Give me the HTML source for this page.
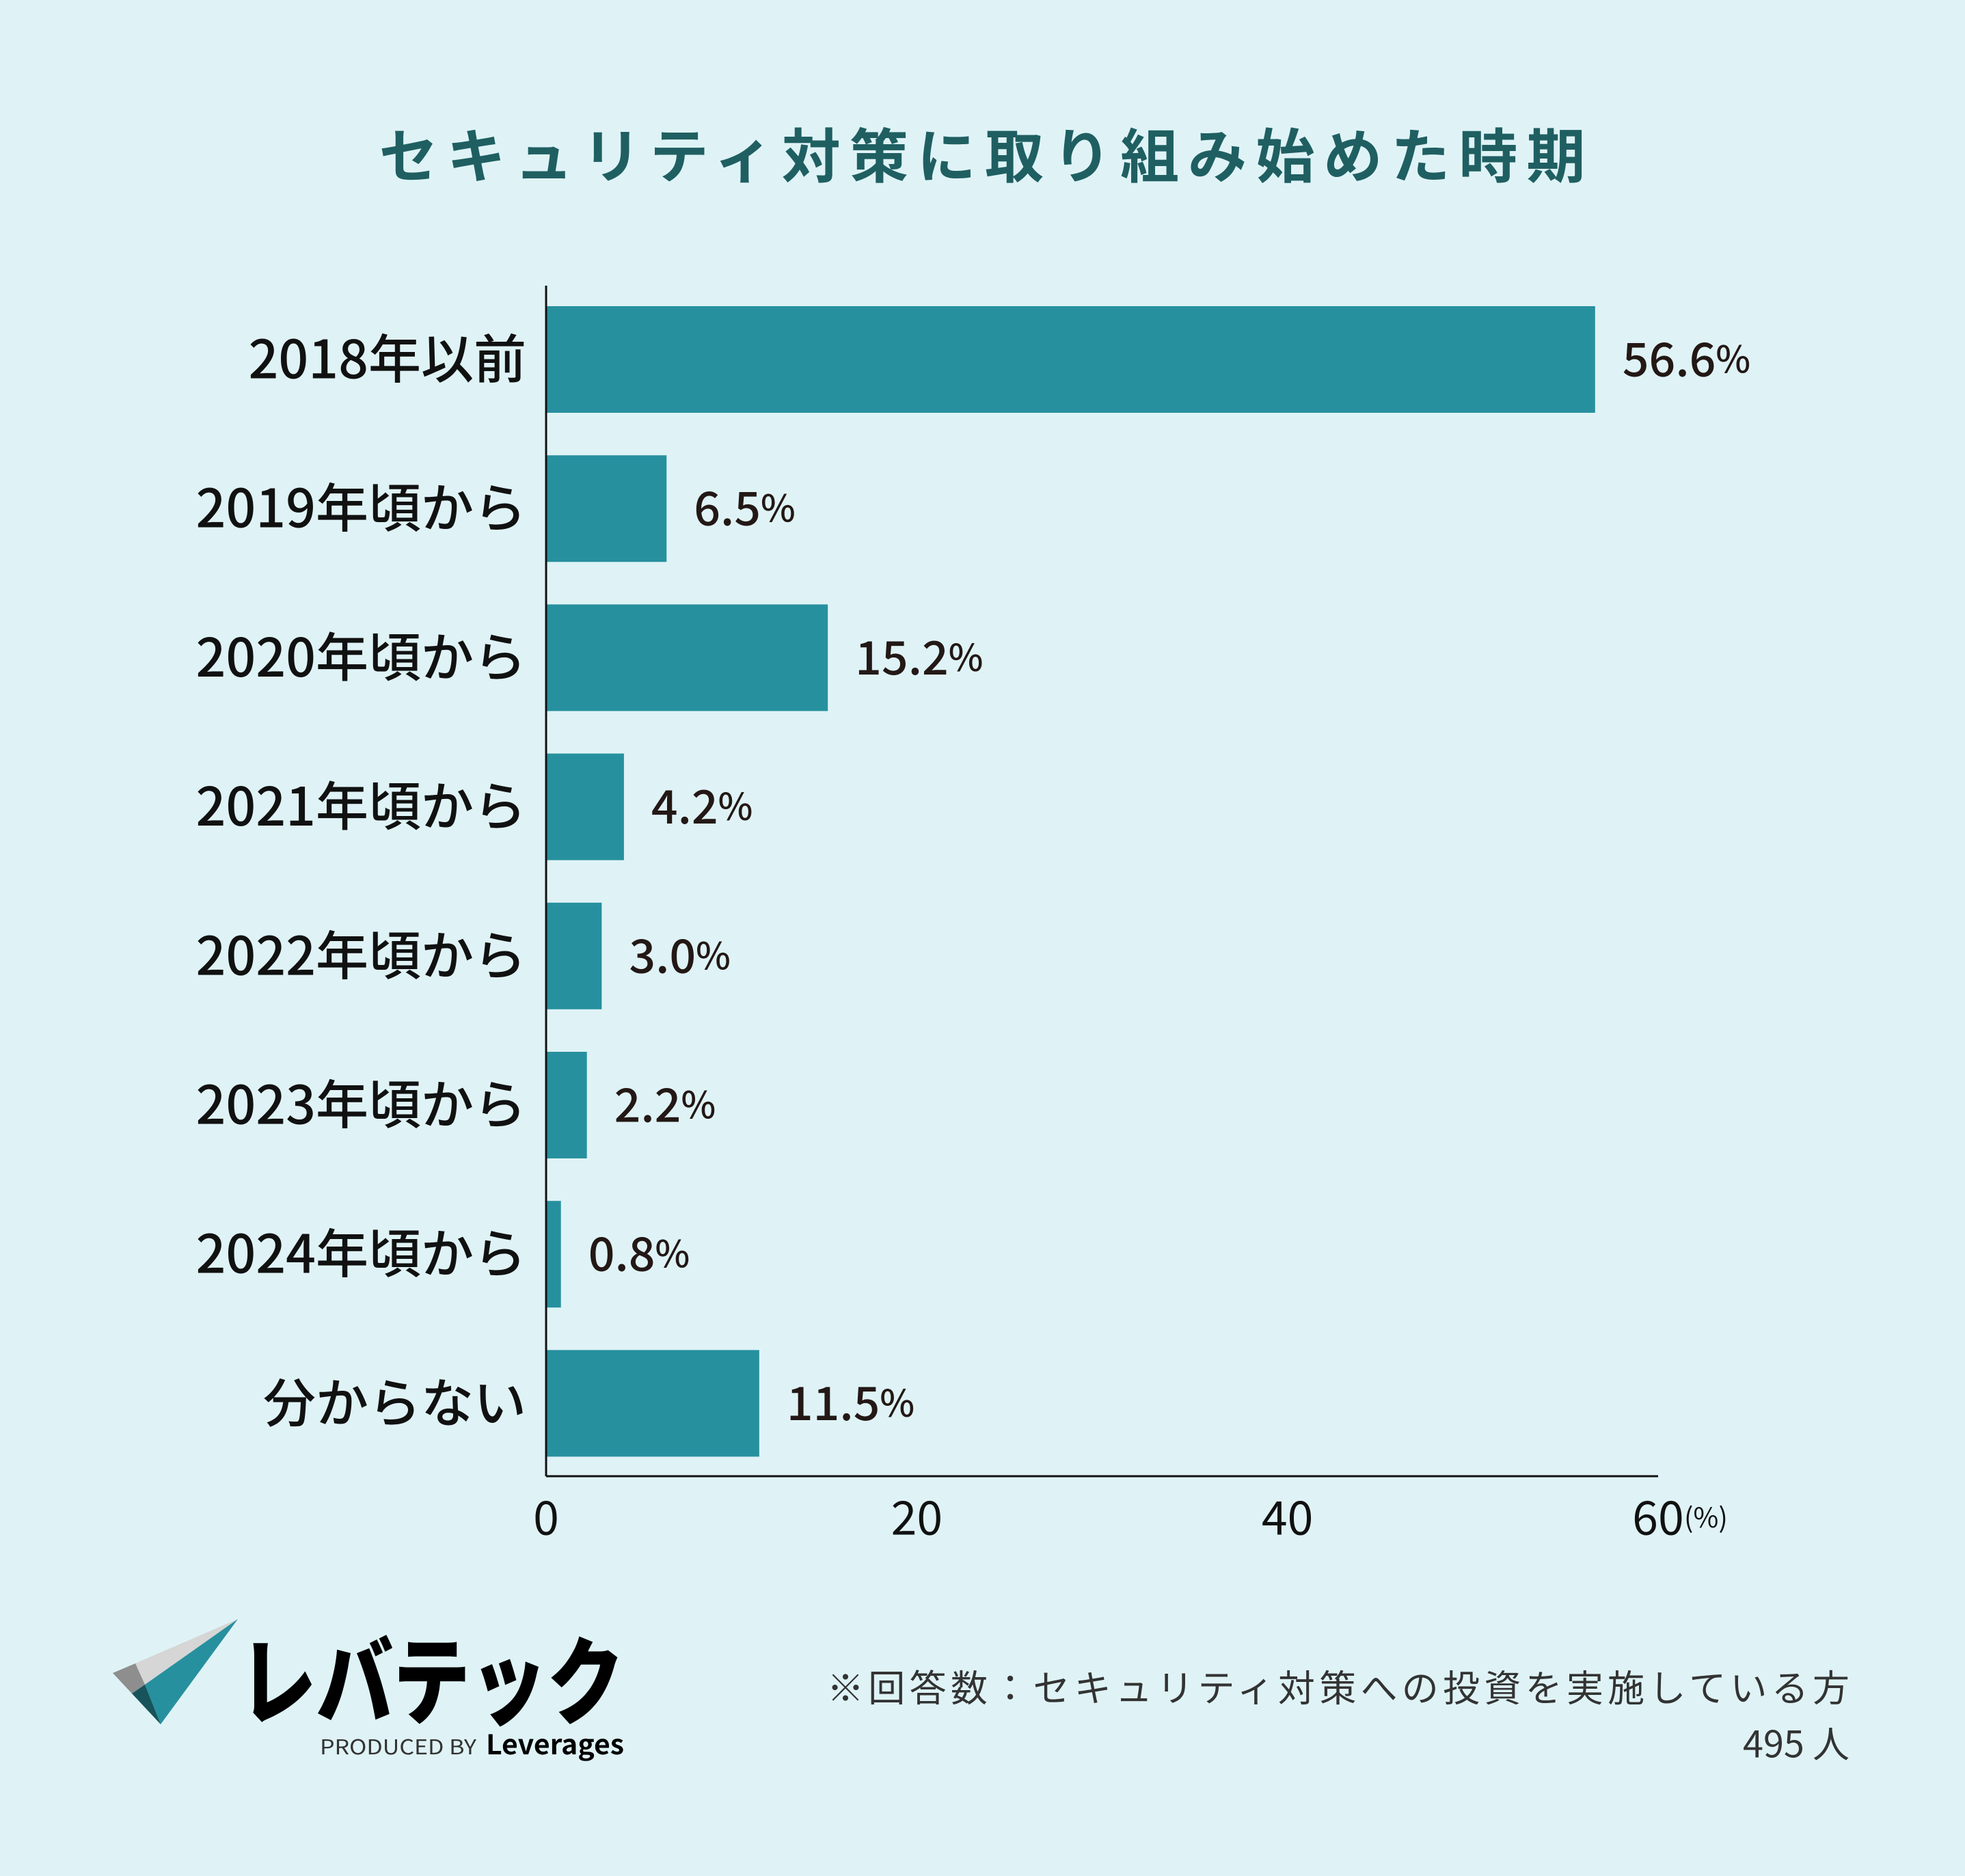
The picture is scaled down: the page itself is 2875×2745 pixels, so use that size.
<!DOCTYPE html>
<html><head><meta charset="utf-8"><style>
html,body{margin:0;padding:0;background:#dff3f6;}
svg{display:block;font-family:"Noto Sans CJK JP","Liberation Sans",sans-serif;}
</style></head><body>
<svg id="chart" width="2875" height="2745" viewBox="0 0 2875 2745" xmlns="http://www.w3.org/2000/svg">
<rect width="2875" height="2745" fill="#dff3f6"/>
<text x="1437" y="222" text-anchor="middle" dominant-baseline="central" font-size="86" font-weight="bold" fill="#1f5f62" textLength="1765" lengthAdjust="spacing">セキュリティ対策に取り組み始めた時期</text>
<g id="bars"></g>
<line x1="799" y1="418" x2="799" y2="2160" stroke="#111" stroke-width="3"/>
<line x1="799" y1="2160" x2="2426" y2="2160" stroke="#111" stroke-width="3"/>
<g id="ticks"></g>
<text x="2464" y="2218" dominant-baseline="central" font-size="40" fill="#111">(%)</text>
<g>
<polygon points="348,2369 165,2448 235,2523" fill="#d6d6d6"/>
<polygon points="165,2448 198,2434 212,2465 193,2478" fill="#8e8e8e"/>
<polygon points="348,2369 212,2465 235,2523" fill="#27909e"/>
<polygon points="193,2478 212,2465 235,2523" fill="#17535a"/>
<text x="350" y="2512" font-size="140" font-weight="900" fill="#000" textLength="563" lengthAdjust="spacingAndGlyphs">レバテック</text>
<text x="468" y="2567" font-size="30" fill="#333" textLength="229" lengthAdjust="spacingAndGlyphs">PRODUCED BY</text>
<text x="711" y="2567" font-size="40" font-weight="bold" fill="#000" textLength="202" lengthAdjust="spacingAndGlyphs">Leverages</text>
</g>
<text x="2706" y="2466" text-anchor="end" dominant-baseline="central" font-size="54" fill="#333" textLength="1496" lengthAdjust="spacing">※回答数：セキュリティ対策への投資を実施している方</text>
<text x="2706" y="2548" text-anchor="end" dominant-baseline="central" font-size="54" fill="#333">495 人</text>
</svg>
<script>
const categories=["2018年以前","2019年頃から","2020年頃から","2021年頃から","2022年頃から","2023年頃から","2024年頃から","分からない"];
const values=[56.6,6.5,15.2,4.2,3.0,2.2,0.8,11.5];
const valueLabels=["56.6","6.5","15.2","4.2","3.0","2.2","0.8","11.5"];
const tickValues=[0,20,40,60];
const NS="http://www.w3.org/2000/svg";
function xs(v){return 799+v*(2426-799)/60;}
function yc(i){return 526+i*218.2;}
const bars=document.getElementById('bars');
categories.forEach((c,i)=>{
  const r=document.createElementNS(NS,'rect');
  r.setAttribute('x',xs(0));r.setAttribute('y',yc(i)-78);
  r.setAttribute('width',xs(values[i])-xs(0));r.setAttribute('height',156);
  r.setAttribute('fill','#27909e');
  
  
  bars.appendChild(r);
  const t=document.createElementNS(NS,'text');
  t.setAttribute('x',770);t.setAttribute('y',yc(i)-5);
  t.setAttribute('text-anchor','end');t.setAttribute('dominant-baseline','central');
  t.setAttribute('font-size','77');t.setAttribute('font-weight','500');t.setAttribute('fill','#111');
  t.textContent=c;
  
  
  bars.appendChild(t);
  const v=document.createElementNS(NS,'text');
  v.setAttribute('x',xs(values[i])+40);v.setAttribute('y',yc(i)-5);
  v.setAttribute('dominant-baseline','central');
  v.setAttribute('font-size','68');v.setAttribute('font-weight','500');v.setAttribute('fill','#231815');
  v.innerHTML=valueLabels[i]+'<tspan font-size="54">%</tspan>';
  
  
  bars.appendChild(v);
});
const ticks=document.getElementById('ticks');
tickValues.forEach(tv=>{
  const t=document.createElementNS(NS,'text');
  t.setAttribute('x',xs(tv));t.setAttribute('y',2216);
  t.setAttribute('text-anchor','middle');t.setAttribute('dominant-baseline','central');
  t.setAttribute('font-size','68');t.setAttribute('fill','#111');
  t.textContent=tv;
  
  
  ticks.appendChild(t);
});
</script>
</body></html>
